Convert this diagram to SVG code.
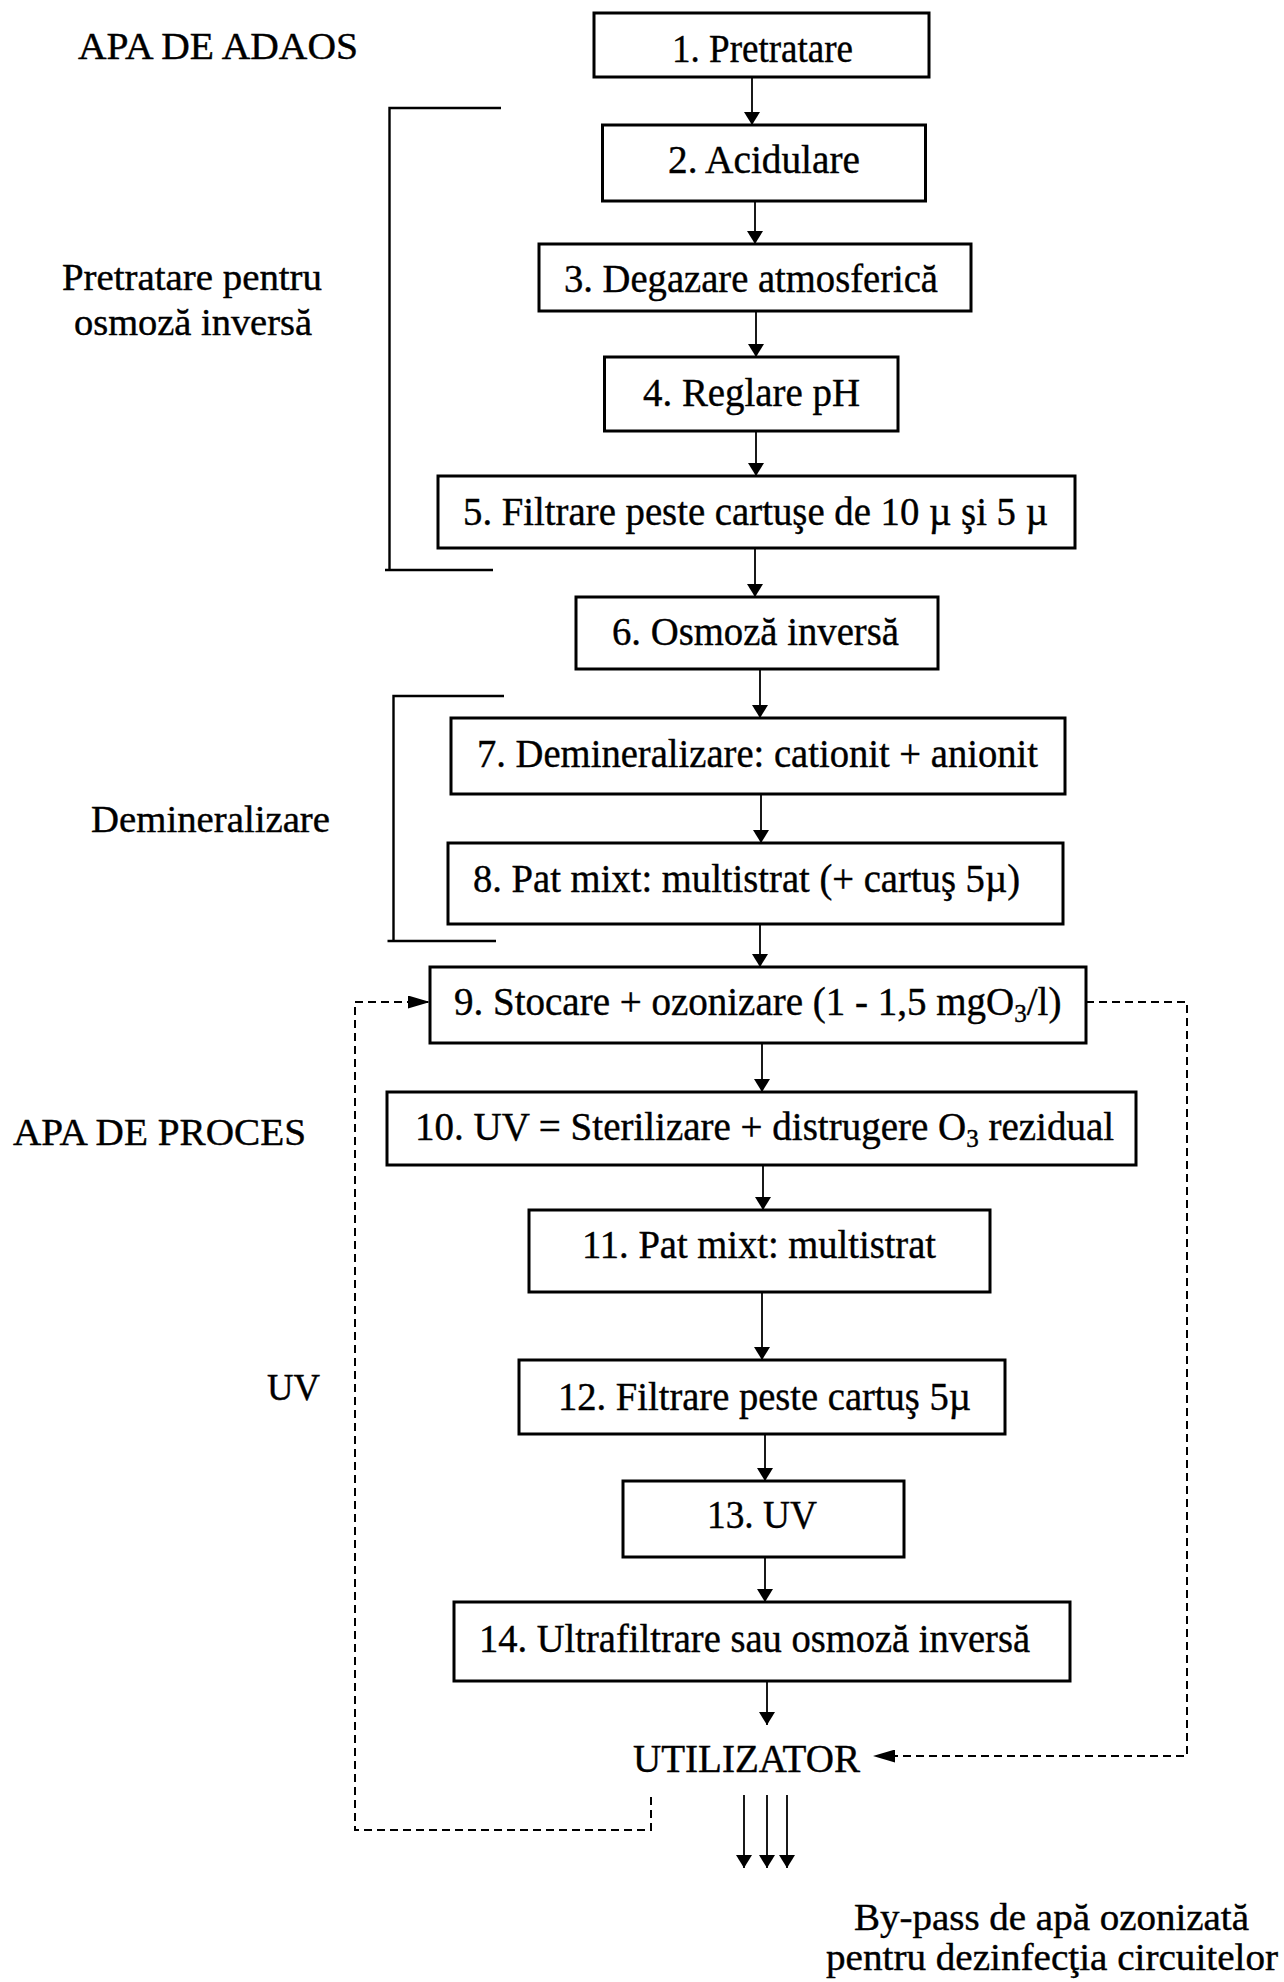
<svg xmlns="http://www.w3.org/2000/svg" width="1284" height="1982" viewBox="0 0 1284 1982">
<style>
text{font-family:"Liberation Serif","Times New Roman",serif;font-size:37px;fill:#000;stroke:#000;stroke-width:0.4}
.bt{font-size:41px}
.bn{font-size:39px}
.sub{font-size:25px}
.box{fill:#fff;stroke:#000;stroke-width:3}
.ln{stroke:#000;stroke-width:1.8;fill:none}
.br{stroke:#000;stroke-width:2.4;fill:none}
.ds{stroke:#000;stroke-width:2;fill:none;stroke-dasharray:8,5}
</style>
<defs>
<marker id="ah" viewBox="0 0 13 16" refX="13" refY="8" markerWidth="13" markerHeight="16" markerUnits="userSpaceOnUse" orient="auto">
<path d="M0,0 L13,8 L0,16 Z" fill="#000"/>
</marker>
<marker id="ahd" viewBox="0 0 22 13" refX="22" refY="6.5" markerWidth="22" markerHeight="13" markerUnits="userSpaceOnUse" orient="auto">
<path d="M0,0 L22,6.5 L0,13 Z" fill="#000"/>
</marker>
</defs>
<rect width="1284" height="1982" fill="#fff"/>

<g id="labels">
<text x="78" y="59" textLength="280" lengthAdjust="spacingAndGlyphs">APA DE ADAOS</text>
<text x="62" y="290" textLength="260" lengthAdjust="spacingAndGlyphs">Pretratare pentru</text>
<text x="74" y="335" textLength="238" lengthAdjust="spacingAndGlyphs">osmoză inversă</text>
<text x="91" y="832" textLength="239" lengthAdjust="spacingAndGlyphs">Demineralizare</text>
<text x="13" y="1145" textLength="293" lengthAdjust="spacingAndGlyphs">APA DE PROCES</text>
<text x="267" y="1400" textLength="53" lengthAdjust="spacingAndGlyphs">UV</text>
<text x="854" y="1930" textLength="395" lengthAdjust="spacingAndGlyphs">By-pass de apă ozonizată</text>
<text x="826" y="1970" textLength="452" lengthAdjust="spacingAndGlyphs">pentru dezinfecţia circuitelor</text>
</g>

<g id="brackets">
<path class="br" d="M501,108 H389.5 V570 H385 M389.5,570 H493"/>
<path class="br" d="M504,696 H393.5 V941 H387.5 M393.5,941 H496"/>
</g>

<g id="n1"><rect class="box" x="594" y="13" width="335" height="64"/><text class="bt" x="672" y="62" textLength="181" lengthAdjust="spacingAndGlyphs">1. Pretratare</text></g>
<g id="n2"><rect class="box" x="602.5" y="125" width="323" height="76"/><text class="bt" x="668" y="173" textLength="192" lengthAdjust="spacingAndGlyphs">2. Acidulare</text></g>
<g id="n3"><rect class="box" x="539" y="244" width="432" height="67"/><text class="bt" x="564" y="292" textLength="374" lengthAdjust="spacingAndGlyphs">3. Degazare atmosferică</text></g>
<g id="n4"><rect class="box" x="604.5" y="357" width="293.5" height="74"/><text class="bt" x="643" y="406" textLength="217" lengthAdjust="spacingAndGlyphs">4. Reglare pH</text></g>
<g id="n5"><rect class="box" x="438" y="476" width="637" height="72"/><text class="bt" x="463" y="525" textLength="585" lengthAdjust="spacingAndGlyphs">5. Filtrare peste cartuşe de 10 µ şi 5 µ</text></g>
<g id="n6"><rect class="box" x="576" y="597" width="362" height="72"/><text class="bt" x="612" y="645" textLength="287" lengthAdjust="spacingAndGlyphs">6. Osmoză inversă</text></g>
<g id="n7"><rect class="box" x="451" y="718" width="614" height="76"/><text class="bt" x="477" y="767" textLength="561" lengthAdjust="spacingAndGlyphs">7. Demineralizare: cationit + anionit</text></g>
<g id="n8"><rect class="box" x="448" y="843" width="615" height="81"/><text class="bt" x="473" y="892" textLength="547" lengthAdjust="spacingAndGlyphs">8. Pat mixt: multistrat (+ cartuş 5µ)</text></g>
<g id="n9"><rect class="box" x="430" y="967" width="656" height="76"/>
<text class="bn" x="454" y="1015">9. Stocare + ozonizare (1 - 1,5 mgO<tspan class="sub" dy="7">3</tspan><tspan dy="-7">/l)</tspan></text></g>
<g id="n10"><rect class="box" x="387" y="1092" width="749" height="73"/>
<text class="bn" x="415" y="1140">10. UV = Sterilizare + distrugere O<tspan class="sub" dy="7">3</tspan><tspan dy="-7"> rezidual</tspan></text></g>
<g id="n11"><rect class="box" x="529" y="1210" width="461" height="82"/><text class="bt" x="582" y="1258" textLength="354" lengthAdjust="spacingAndGlyphs">11. Pat mixt: multistrat</text></g>
<g id="n12"><rect class="box" x="519" y="1360" width="486" height="74"/><text class="bt" x="558" y="1410" textLength="413" lengthAdjust="spacingAndGlyphs">12. Filtrare peste cartuş 5µ</text></g>
<g id="n13"><rect class="box" x="623" y="1481" width="281" height="76"/><text class="bt" x="707" y="1528" textLength="110" lengthAdjust="spacingAndGlyphs">13. UV</text></g>
<g id="n14"><rect class="box" x="454" y="1602" width="616" height="79"/><text class="bt" x="479" y="1652" textLength="551" lengthAdjust="spacingAndGlyphs">14. Ultrafiltrare sau osmoză inversă</text></g>
<g id="utilizator"><text style="font-size:40px" x="633" y="1772" textLength="227" lengthAdjust="spacingAndGlyphs">UTILIZATOR</text></g>

<g id="connectors">
<line class="ln" x1="752" y1="77" x2="752" y2="125" marker-end="url(#ah)"/>
<line class="ln" x1="755" y1="201" x2="755" y2="244" marker-end="url(#ah)"/>
<line class="ln" x1="756" y1="311" x2="756" y2="357" marker-end="url(#ah)"/>
<line class="ln" x1="756" y1="431" x2="756" y2="476" marker-end="url(#ah)"/>
<line class="ln" x1="755" y1="548" x2="755" y2="597" marker-end="url(#ah)"/>
<line class="ln" x1="760" y1="669" x2="760" y2="718" marker-end="url(#ah)"/>
<line class="ln" x1="761" y1="794" x2="761" y2="843" marker-end="url(#ah)"/>
<line class="ln" x1="760" y1="924" x2="760" y2="967" marker-end="url(#ah)"/>
<line class="ln" x1="762" y1="1043" x2="762" y2="1092" marker-end="url(#ah)"/>
<line class="ln" x1="763" y1="1165" x2="763" y2="1210" marker-end="url(#ah)"/>
<line class="ln" x1="762" y1="1292" x2="762" y2="1360" marker-end="url(#ah)"/>
<line class="ln" x1="765" y1="1434" x2="765" y2="1481" marker-end="url(#ah)"/>
<line class="ln" x1="765" y1="1557" x2="765" y2="1602" marker-end="url(#ah)"/>
<line class="ln" x1="767" y1="1681" x2="767" y2="1725" marker-end="url(#ah)"/>
<line class="ln" x1="744" y1="1795" x2="744" y2="1868" marker-end="url(#ah)"/>
<line class="ln" x1="767" y1="1795" x2="767" y2="1868" marker-end="url(#ah)"/>
<line class="ln" x1="787" y1="1795" x2="787" y2="1868" marker-end="url(#ah)"/>
<path class="ds" d="M651,1797 V1830 H355 V1002 H430" marker-end="url(#ahd)"/>
<path class="ds" d="M1086,1002 H1187 V1756 H873" marker-end="url(#ahd)"/>
</g>
</svg>
